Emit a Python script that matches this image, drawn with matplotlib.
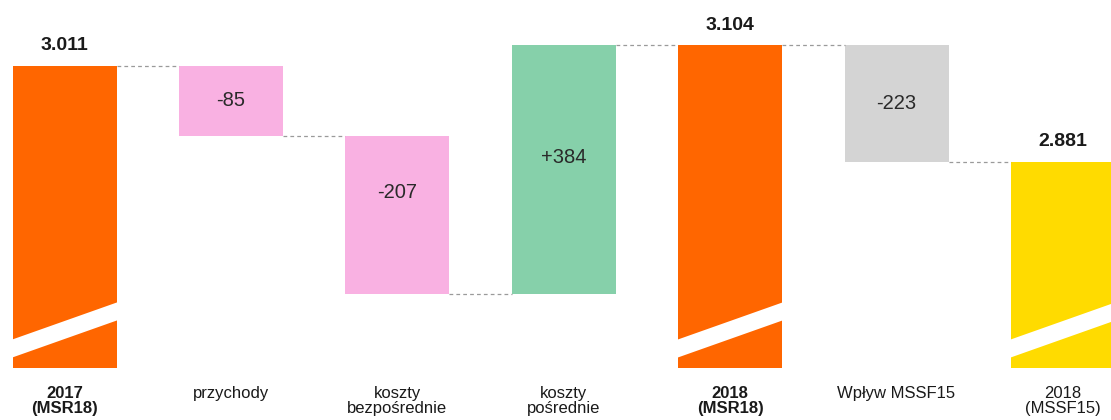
import matplotlib.pyplot as plt
import numpy as np

plt.rcParams['font.family'] = ['Liberation Sans', 'DejaVu Sans']

# data
categories = ['2017\n(MSR18)', 'przychody', 'koszty\nbezpośrednie', 'koszty\npośrednie',
              '2018\n(MSR18)', 'Wpływ MSSF15', '2018\n(MSSF15)']
values = [3011, -85, -207, 384, 3104, -223, 2881]
value_labels = ['3.011', '-85', '-207', '+384', '3.104', '-223', '2.881']
is_total = [True, False, False, False, True, False, True]
bold_cat = [True, False, False, False, True, False, False]
# the chart is schematic (not to scale) - bar extents as drawn in the picture
drawn = [302, -70, -158, 249, 323, -117, 206]

colors = ['#FF6600', '#F9B1E2', '#F9B1E2', '#86D0AA', '#FF6600', '#D4D4D4', '#FFDB00']
label_frac = [0, 0.49, 0.36, 0.45, 0, 0.5, 0]

fig = plt.figure(figsize=(11.11, 4.2), dpi=100)
ax = fig.add_axes([0, 0, 1, 1])

x = np.arange(len(categories))
w = 0.625

# bottoms / tops
bottoms = []
tops = []
level = 0
for i in range(len(drawn)):
    if is_total[i]:
        bottoms.append(0)
        tops.append(drawn[i])
        level = drawn[i]
    else:
        new = level + drawn[i]
        bottoms.append(min(level, new))
        tops.append(max(level, new))
        level = new

heights = [t - b for t, b in zip(tops, bottoms)]
ax.bar(x, heights, bottom=bottoms, width=w, color=colors, linewidth=0)

# white diagonal break on total bars
for i in range(len(x)):
    if is_total[i]:
        xl, xr = x[i] - w / 2 - 0.01, x[i] + w / 2 + 0.01
        ax.fill([xl, xl, xr, xr], [10, 28, 66, 48], color='white', lw=0, zorder=3)

# connectors
levels_after = []
level = 0
for i in range(len(drawn)):
    level = drawn[i] if is_total[i] else level + drawn[i]
    levels_after.append(level)
for i in range(len(x) - 1):
    ax.plot([x[i] + w / 2, x[i + 1] - w / 2], [levels_after[i]] * 2,
            color='#9A9A9A', lw=0.9, ls=(0, (3, 2.5)), zorder=1)

# labels
for i in range(len(x)):
    if is_total[i]:
        ax.text(x[i], tops[i] + 20, value_labels[i], ha='center', va='center',
                fontsize=14, fontweight='bold', color='#1a1a1a')
    else:
        yy = tops[i] - label_frac[i] * heights[i]
        ax.text(x[i], yy, value_labels[i], ha='center', va='center',
                fontsize=14.5, color='#2a2a2a')
    ax.text(x[i], -18, categories[i], ha='center', va='top', fontsize=12,
            fontweight='bold' if bold_cat[i] else 'normal', color='#1a1a1a',
            linespacing=1.0)

ax.set_xlim(-0.388, 6.289)
ax.set_ylim(-52, 368)
ax.axis('off')

fig.savefig('out.png', dpi=100)
